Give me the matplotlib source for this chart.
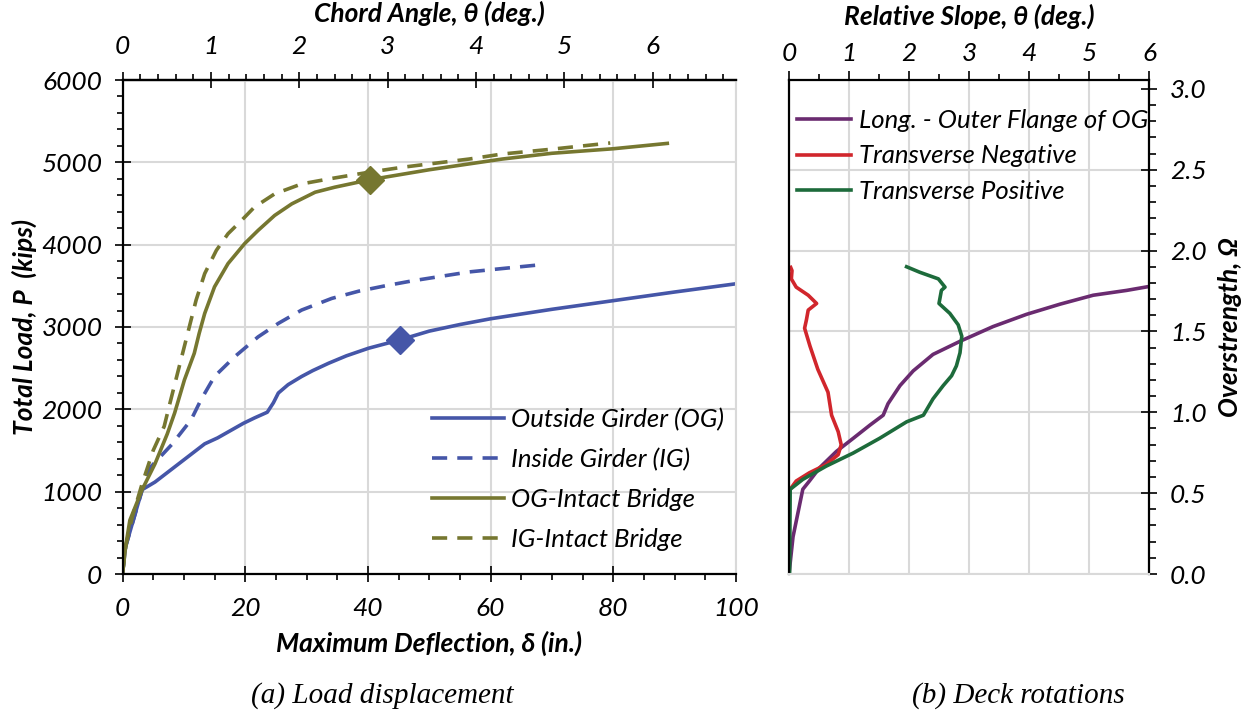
import matplotlib
matplotlib.use("Agg")
import matplotlib.pyplot as plt
from matplotlib.ticker import MultipleLocator

plt.rcParams['font.family'] = ['Lato', 'DejaVu Sans']
plt.rcParams['mathtext.default'] = 'regular'

# ---------------- data: (a) load displacement ----------------
og_x = [0, 0.5, 3.2, 5.3, 13.4, 15.5, 19.7, 21.5, 23.6, 24.6, 25.4, 27, 29.2, 31, 33.6,
        36.5, 40.1, 45.2, 50, 55, 60, 70, 80, 90, 100]
og_y = [0, 330, 1024, 1117, 1581, 1653, 1830, 1895, 1965, 2080, 2198, 2300, 2399, 2470, 2560,
        2650, 2742, 2843, 2950, 3030, 3100, 3215, 3320, 3425, 3525]

ig_x = [0, 0.5, 3.2, 4.6, 8.0, 11.2, 12.8, 15.0, 18.3, 22.1, 25.4, 29.2, 34.1, 38.5,
        42.8, 47.2, 56.5, 61.9, 68]
ig_y = [0, 330, 1020, 1300, 1570, 1875, 2117, 2400, 2640, 2880, 3044, 3206, 3347, 3435,
        3500, 3560, 3669, 3710, 3755]

ogi_x = [0, 0.5, 1.2, 3.2, 5.3, 7.3, 8.5, 10.1, 11.7, 12.5, 13.4, 15.0, 17.2, 19.9, 22.1,
         24.8, 27.6, 31.4, 34.6, 40.4, 50, 61.9, 70, 80, 88.8]
ogi_y = [0, 330, 653, 1024, 1339, 1702, 1956, 2359, 2681, 2923, 3165, 3488, 3770, 4012, 4173,
         4355, 4496, 4637, 4698, 4790, 4910, 5040, 5110, 5165, 5230]

igi_x = [0, 0.5, 1.6, 3.2, 5.0, 6.8, 7.6, 8.7, 9.8, 10.9, 12.0, 13.4, 15.3, 17.2, 19.4,
         21.5, 24.8, 29.2, 33.6, 40.1, 45.6, 56.5, 61.9, 70, 79.5]
igi_y = [0, 330, 694, 1097, 1500, 1794, 2036, 2359, 2681, 3004, 3327, 3649, 3931, 4133, 4294,
         4456, 4617, 4738, 4798, 4879, 4940, 5040, 5101, 5160, 5235]

og_mark_x, og_mark_y = [45.2], [2843]
ogi_mark_x, ogi_mark_y = [40.4], [4790]

labels_a = ["Outside Girder (OG)", "Inside Girder (IG)", "OG-Intact Bridge", "IG-Intact Bridge"]
in_per_deg = 14.4

# ---------------- data: (b) deck rotations ----------------
long_x = [0, 0.067, 0.23, 0.34, 0.51, 0.79, 1.07, 1.35, 1.57, 1.65, 1.85, 2.07, 2.40, 2.85,
          3.40, 3.96, 4.52, 5.07, 5.63, 6.0]
long_y = [0, 0.23, 0.524, 0.575, 0.657, 0.758, 0.839, 0.921, 0.982, 1.053, 1.165, 1.256,
          1.358, 1.439, 1.530, 1.606, 1.669, 1.724, 1.754, 1.778]

neg_x = [0, 0, 0.02, 0.12, 0.34, 0.62, 0.82, 0.87, 0.82, 0.71, 0.65, 0.48, 0.35, 0.26,
         0.29, 0.32, 0.46, 0.32, 0.12, 0.039, 0.05, 0.028]
neg_y = [0, 0.494, 0.524, 0.575, 0.626, 0.677, 0.738, 0.799, 0.880, 0.982, 1.124, 1.266,
         1.409, 1.520, 1.571, 1.632, 1.673, 1.724, 1.774, 1.825, 1.876, 1.896]

pos_x = [0.01, 0.02, 0.23, 0.62, 1.07, 1.51, 1.96, 2.24, 2.40, 2.57, 2.71, 2.79, 2.85,
         2.88, 2.82, 2.68, 2.50, 2.54, 2.60, 2.49, 2.18, 1.96]
pos_y = [0, 0.524, 0.585, 0.667, 0.748, 0.839, 0.941, 0.982, 1.083, 1.165, 1.226, 1.287,
         1.368, 1.470, 1.541, 1.612, 1.673, 1.754, 1.774, 1.825, 1.866, 1.90]

labels_b = ["Long. - Outer Flange of OG", "Transverse Negative", "Transverse Positive"]

BLUE = "#4556A8"
OLIVE = "#767730"
PURPLE = "#6A2B70"
RED = "#D1262C"
GREEN = "#1D6B3B"
GRID = "#D9D9D9"

W, H = 1246, 715
fig = plt.figure(figsize=(W / 100, H / 100), dpi=100)

def fx(px):
    return px / W

def fy(py):
    return 1 - py / H

TICK_FS = 19
LAB_FS = 19
LEG_FS = 18.5

# ---------------- panel (a) ----------------
ax = fig.add_axes([fx(122.5), fy(574), fx(736) - fx(122.5), fy(80) - fy(574)])
lw = 2.6
ax.plot(og_x, og_y, color=BLUE, lw=lw, label=labels_a[0])
ax.plot(ig_x, ig_y, color=BLUE, lw=lw, ls=(0, (4.2, 2.8)), label=labels_a[1])
ax.plot(ogi_x, ogi_y, color=OLIVE, lw=lw, label=labels_a[2])
ax.plot(igi_x, igi_y, color=OLIVE, lw=lw, ls=(0, (4.2, 2.8)), label=labels_a[3])
ax.plot(og_mark_x, og_mark_y, 'D', color=BLUE, ms=14, mec=BLUE)
ax.plot(ogi_mark_x, ogi_mark_y, 'D', color=OLIVE, ms=14, mec=OLIVE)

ax.set_xlim(0, 100)
ax.set_ylim(0, 6000)
ax.xaxis.set_major_locator(MultipleLocator(20))
ax.xaxis.set_minor_locator(MultipleLocator(5))
ax.yaxis.set_major_locator(MultipleLocator(1000))
ax.yaxis.set_minor_locator(MultipleLocator(200))
ax.grid(True, which='major', color=GRID, lw=1.5)
ax.set_axisbelow(True)
for s in ['left', 'bottom', 'top']:
    ax.spines[s].set_linewidth(1.6)
    ax.spines[s].set_color('black')
ax.spines['right'].set_color(GRID)
ax.spines['right'].set_linewidth(1.5)
ax.tick_params(which='major', direction='inout', length=11, width=1.2, labelsize=TICK_FS)
ax.tick_params(which='minor', direction='out', length=4.5, width=1.2)
ax.tick_params(axis='x', which='major', pad=11)
ax.tick_params(axis='y', which='major', pad=9)
for t in ax.get_xticklabels() + ax.get_yticklabels():
    t.set_fontstyle('italic')

ax.set_xlabel("Maximum Deflection, δ (in.)", fontsize=LAB_FS, fontweight='bold',
              fontstyle='italic', labelpad=8)
ax.set_ylabel("Total Load, P  (kips)", fontsize=LAB_FS, fontweight='bold',
              fontstyle='italic', labelpad=3)

sec = ax.secondary_xaxis('top', functions=(lambda d: d / in_per_deg, lambda t: t * in_per_deg))
sec.xaxis.set_major_locator(MultipleLocator(1))
sec.xaxis.set_minor_locator(MultipleLocator(0.2))
sec.tick_params(which='major', direction='inout', length=11, width=1.2, labelsize=TICK_FS, pad=10)
sec.tick_params(which='minor', direction='out', length=4.5, width=1.2)
sec.spines['top'].set_linewidth(1.6)
for t in sec.get_xticklabels():
    t.set_fontstyle('italic')
sec.set_xlabel("Chord Angle, θ (deg.)", fontsize=LAB_FS, fontweight='bold',
               fontstyle='italic', labelpad=10)

leg = ax.legend(loc='upper left', bbox_to_anchor=(0.504, 0.337), frameon=False,
                fontsize=LEG_FS, handlelength=2.8, handletextpad=0.3, labelspacing=0.66,
                borderpad=0, borderaxespad=0)
for t in leg.get_texts():
    t.set_fontstyle('italic')

# ---------------- panel (b) ----------------
bx = fig.add_axes([fx(789), fy(574), fx(1149) - fx(789), fy(80) - fy(574)])
bx.plot(long_x, long_y, color=PURPLE, lw=lw, label=labels_b[0])
bx.plot(neg_x, neg_y, color=RED, lw=lw, label=labels_b[1])
bx.plot(pos_x, pos_y, color=GREEN, lw=lw, label=labels_b[2])
bx.set_xlim(0, 6)
bx.set_ylim(0, 3.055)
bx.xaxis.tick_top()
bx.xaxis.set_label_position('top')
bx.yaxis.tick_right()
bx.yaxis.set_label_position('right')
bx.xaxis.set_major_locator(MultipleLocator(1))
bx.xaxis.set_minor_locator(MultipleLocator(0.5))
bx.yaxis.set_major_locator(MultipleLocator(0.5))
bx.yaxis.set_minor_locator(MultipleLocator(0.1))
bx.yaxis.set_major_formatter(matplotlib.ticker.FormatStrFormatter('%.1f'))
bx.grid(True, which='major', color=GRID, lw=1.5)
bx.set_axisbelow(True)
for gl, v in zip(bx.yaxis.get_gridlines(), bx.get_yticks()):
    if v > 2.9:
        gl.set_visible(False)
for s in ['left', 'top', 'right']:
    bx.spines[s].set_linewidth(1.6)
    bx.spines[s].set_color('black')
bx.spines['bottom'].set_color(GRID)
bx.spines['bottom'].set_linewidth(1.5)
bx.tick_params(axis='x', which='major', direction='out', length=6.5, width=1.2,
               labelsize=TICK_FS, pad=4)
bx.tick_params(axis='x', which='minor', direction='out', length=4.5, width=1.2)
bx.tick_params(axis='y', which='major', direction='inout', length=12, width=1.2,
               labelsize=TICK_FS, pad=9)
bx.tick_params(axis='y', which='minor', direction='out', length=5, width=1.2)
for t in bx.get_xticklabels() + bx.get_yticklabels():
    t.set_fontstyle('italic')
bx.set_xlabel("Relative Slope, θ (deg.)", fontsize=LAB_FS, fontweight='bold',
              fontstyle='italic', labelpad=13)
bx.set_ylabel("Overstrength, Ω", fontsize=LAB_FS, fontweight='bold',
              fontstyle='italic', labelpad=8, rotation=90)

legb = bx.legend(loc='upper left', bbox_to_anchor=(0.022, 0.942), frameon=False,
                 fontsize=LEG_FS, handlelength=2.1, handletextpad=0.3, labelspacing=0.5,
                 borderpad=0, borderaxespad=0)
for t in legb.get_texts():
    t.set_fontstyle('italic')

# captions
fig.text(fx(382), fy(696), "(a) Load displacement", family='Liberation Serif',
         style='italic', fontsize=21, ha='center', va='center')
fig.text(fx(1018), fy(696), "(b) Deck rotations", family='Liberation Serif',
         style='italic', fontsize=21, ha='center', va='center')

fig.savefig("out.png", dpi=100)
